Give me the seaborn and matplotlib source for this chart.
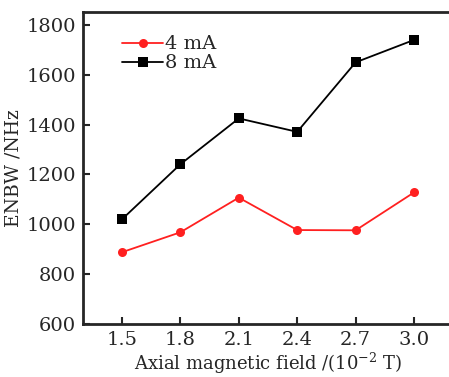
import matplotlib
matplotlib.use("Agg")
import matplotlib.pyplot as plt
import seaborn as sns
import pandas as pd

field = [1.5, 1.8, 2.1, 2.4, 2.7, 3.0]
enbw_4mA = [888, 968, 1107, 977, 976, 1128]
enbw_8mA = [1020, 1241, 1425, 1371, 1650, 1740]
series_names = ["4 mA", "8 mA"]
xticks = [1.5, 1.8, 2.1, 2.4, 2.7, 3.0]
yticks = [600, 800, 1000, 1200, 1400, 1600, 1800]

df = pd.concat([
    pd.DataFrame({"x": field, "y": enbw_4mA, "s": series_names[0]}),
    pd.DataFrame({"x": field, "y": enbw_8mA, "s": series_names[1]}),
])

sns.set_style("ticks")
plt.rcParams['font.family'] = ['DejaVu Serif']
plt.rcParams['mathtext.fontset'] = 'dejavuserif'

fig = plt.figure(figsize=(4.49, 3.77), dpi=100)
ax = fig.add_axes([83/449, 1 - 324/377, (453-83)/449, (324-12)/377])

sns.lineplot(data=df, x="x", y="y", hue="s", style="s",
             palette={"4 mA": "#ff2020", "8 mA": "black"},
             markers={"4 mA": "o", "8 mA": "s"}, dashes=False,
             markersize=6.5, linewidth=1.3, markeredgewidth=0, ax=ax)

ax.set_xlim(1.3, 3.2)
ax.set_ylim(600, 1852)
ax.set_xticks(xticks)
ax.set_xticklabels([f"{v:.1f}" for v in xticks])
ax.set_yticks(yticks)
ax.tick_params(direction="in", length=5, width=1.5, labelsize=14, pad=5,
               top=False, right=False)
for sp in ax.spines.values():
    sp.set_linewidth(2)
    sp.set_visible(True)

ax.set_xlabel(r"Axial magnetic field /(10$^{-2}$ T)", fontsize=13, labelpad=1)
ax.set_ylabel("ENBW /NHz", fontsize=13.5, labelpad=3)

leg = ax.legend(loc="upper left", bbox_to_anchor=(0.085, 0.95), frameon=False,
                fontsize=14, handlelength=2.1, handletextpad=0.1,
                labelspacing=0.05, borderaxespad=0)

fig.savefig("out.png", dpi=100)
